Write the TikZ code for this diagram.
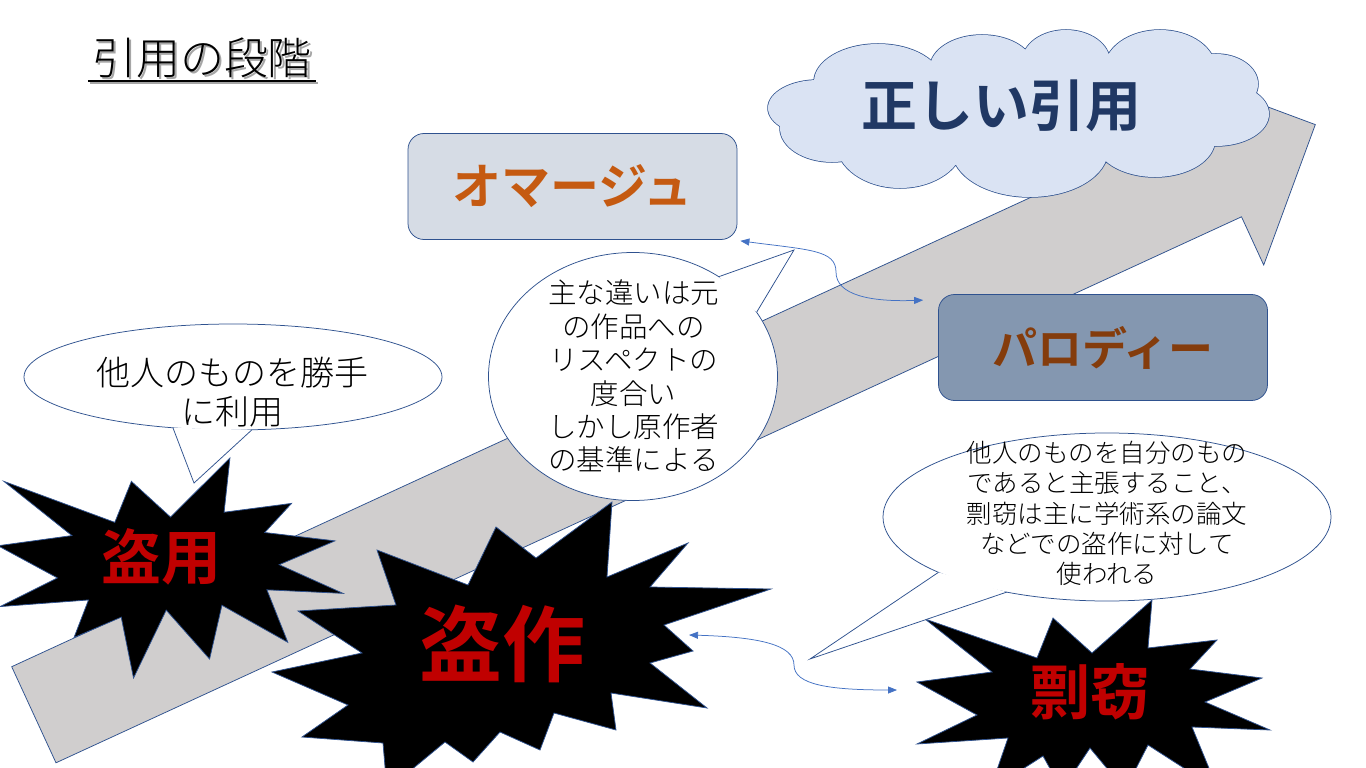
\documentclass[tikz,border=0pt]{standalone}
\usepackage{fontspec}
\setmainfont{Noto Sans CJK JP}[BoldFont={Noto Sans CJK JP Bold}]
\IfFontExistsTF{Noto Sans CJK JP Light}
  {\newfontfamily\jplight{Noto Sans CJK JP Light}}
  {\newcommand\jplight{}}
\usetikzlibrary{arrows.meta}

\definecolor{arrowgray}{HTML}{D0CECE}
\definecolor{edgeblue}{HTML}{2F528F}
\definecolor{linkblue}{HTML}{4472C4}
\definecolor{cloudfill}{HTML}{DAE3F3}
\definecolor{cloudtext}{HTML}{203864}
\definecolor{homagefill}{HTML}{D6DCE5}
\definecolor{homagetext}{HTML}{C55A11}
\definecolor{parodyfill}{HTML}{8497B0}
\definecolor{parodytext}{HTML}{843C0C}
\definecolor{theftred}{HTML}{C00000}

\newcommand\jpsize[2]{\fontsize{#1}{#2}\selectfont}
% puffs of the cloud
\newcommand\cloudpuffs{
  (818,108) ellipse [x radius=50pt, y radius=28pt]
  (878,82) ellipse [x radius=64pt, y radius=38pt]
  (982,68) ellipse [x radius=52pt, y radius=33pt]
  (1066,62) ellipse [x radius=44pt, y radius=32pt]
  (1160,70) ellipse [x radius=56pt, y radius=40pt]
  (1216,84) ellipse [x radius=42pt, y radius=30pt]
  (1216,114) ellipse [x radius=53pt, y radius=32pt]
  (1155,140) ellipse [x radius=60pt, y radius=37pt]
  (1030,150) ellipse [x radius=78pt, y radius=47pt]
  (900,142) ellipse [x radius=64pt, y radius=46pt]
  (832,128) ellipse [x radius=52pt, y radius=34pt]
  (1015,110) ellipse [x radius=190pt, y radius=55pt]}

\tikzset{
  edgeline/.style={draw=edgeblue, line width=0.75pt},
  stagebox/.style={edgeline, rounded corners=16pt, minimum width=329pt,
    minimum height=106pt, inner sep=0pt},
  burst/.style={edgeline, fill=black},
  bursttext/.style={text=theftred, inner sep=0pt},
  bubble/.style={edgeline, fill=white},
  bubbletext/.style={align=center, inner sep=0pt},
  link/.style={draw=linkblue, line width=0.75pt,
    {Triangle[length=9pt,width=7pt]}-{Triangle[length=9pt,width=7pt]}},
}

\begin{document}
\begin{tikzpicture}[x=1pt, y=-1pt]
  \useasboundingbox (0,0) rectangle (1366,768);
  \fill[white] (0,0) rectangle (1366,768);

  % big arrow
  \draw[edgeline, fill=arrowgray] (11.7,666.7) -- (1197.2,120.7) -- (1175.0,72.4)
    -- (1315.3,124.6) -- (1263.7,265.0) -- (1241.5,216.8) -- (56.0,762.8) -- cycle;

  % goal
  \draw[draw=edgeblue, line width=1.5pt] \cloudpuffs;
  \fill[cloudfill] \cloudpuffs;
  \node[text=cloudtext, font=\bfseries\jpsize{56}{60}] (goal) at (1001,106) {正しい引用};

  % stages
  \node[stagebox, fill=homagefill, text=homagetext, font=\bfseries\jpsize{49}{54}]
    (homage) at (572.5,186.5) {オマージュ};
  \node[stagebox, fill=parodyfill, text=parodytext, font=\bfseries\jpsize{45}{50}]
    (parody) at (1103,347.5) {パロディー};

  % 盗用
  \begin{scope}[shift={(-2,458)}, xscale=1.5972, yscale=1.0185]
    \draw[burst] (108,58) -- (145.22,0) -- (141.55,53.25) -- (183.80,44.57)
      -- (167.02,73.15) -- (210.97,81.37) -- (176.07,104.75) -- (216,132.90)
      -- (168.37,129.42) -- (181.45,180.95) -- (140.20,144.57) -- (132.47,197.37)
      -- (105.32,149.35) -- (84.85,216) -- (77.15,156.27) -- (47.62,176.17)
      -- (56.67,139.37) -- (1.35,145.87) -- (37.22,117.75) -- (0,86.15)
      -- (46.27,76.17) -- (3.70,22.95) -- (73.12,63.20) -- (83.52,22.95) -- cycle;
  \end{scope}
  \node[bursttext, font=\bfseries\jpsize{60}{66}] (misuse) at (161.5,557) {盗用};

  % 盗作
  \draw[burst] (612,502) -- (607,577) -- (688,543) -- (650,587) -- (771,589)
    -- (664,625) -- (693,651) -- (650,663) -- (707,708) -- (611,693) -- (616,730)
    -- (554,713) -- (540,750) -- (500,732) -- (473,762) -- (445,742) -- (387,790)
    -- (383,743) -- (302,737) -- (348,705) -- (272,672) -- (362,653) -- (298,611)
    -- (396,605) -- (377,550) -- (468,585) -- (496,527) -- (536,558) -- cycle;
  \node[bursttext, font=\bfseries\jpsize{83}{90}] (piracy) at (502.5,644) {盗作};
  \coordinate (piracy east) at (689,635);

  % 剽窃
  \draw[burst] (925,619) -- (1037,658) -- (1053,618) -- (1092,653) -- (1152,600)
    -- (1148,648) -- (1217,640) -- (1190,669) -- (1262,678) -- (1205,702)
    -- (1270,730) -- (1192,727) -- (1218,790) -- (1148,745) -- (1125,790)
    -- (1090,748) -- (1062,790) -- (1043,756) -- (990,790) -- (1008,738)
    -- (917,744) -- (977,715) -- (917,682) -- (992,672) -- cycle;
  \node[bursttext, font=\bfseries\jpsize{60}{66}] (plagiarism) at (1090,692) {剽窃};
  \coordinate (plagiarism west) at (897,690);

  % speech bubbles
  \coordinate (say1) at (233,377);
  \coordinate (say1 tip) at (194,483);
  \draw[bubble] (say1) ellipse [x radius=209pt, y radius=53pt];
  \fill[white] ([shift={(253.3:209pt and 53pt)}]say1) -- (say1 tip)
    -- ([shift={(275.2:209pt and 53pt)}]say1) -- cycle;
  \draw[edgeline] ([shift={(253.3:209pt and 53pt)}]say1) -- (say1 tip)
    -- ([shift={(275.2:209pt and 53pt)}]say1);
  \node[bubbletext, font=\jplight\jpsize{34}{39}] (say1 text) at (232,392.5)
    {他人のものを勝手\\に利用};

  \coordinate (say2) at (633,376.5);
  \coordinate (say2 tip) at (794,250);
  \draw[bubble] (say2) ellipse [x radius=144.5pt, y radius=124pt];
  \fill[white] ([shift={(53.6:144.5pt and 124pt)}]say2) -- (say2 tip)
    -- ([shift={(31.2:144.5pt and 124pt)}]say2) -- cycle;
  \draw[edgeline] ([shift={(53.6:144.5pt and 124pt)}]say2) -- (say2 tip)
    -- ([shift={(31.2:144.5pt and 124pt)}]say2);
  \node[bubbletext, font=\jplight\jpsize{28.5}{33.4}] (say2 text) at (633.5,376.5)
    {主な違いは元\\の作品への\\リスペクトの\\度合い\\しかし原作者\\の基準による};

  \coordinate (say3) at (1107,517);
  \coordinate (say3 tip) at (810,659);
  \draw[bubble] (say3) ellipse [x radius=224pt, y radius=84pt];
  \fill[white] ([shift={(221.2:224pt and 84pt)}]say3) -- (say3 tip)
    -- ([shift={(243.4:224pt and 84pt)}]say3) -- cycle;
  \draw[edgeline] ([shift={(221.2:224pt and 84pt)}]say3) -- (say3 tip)
    -- ([shift={(243.4:224pt and 84pt)}]say3);
  \node[bubbletext, font=\jplight\jpsize{25.5}{30.3}] (say3 text) at (1107,513.5)
    {他人のものを自分のもの\\であると主張すること、\\剽窃は主に学術系の論文\\などでの盗作に対して\\使われる};

  % links
  \draw[link] ([shift={(3,1)}]homage.south east) .. controls (810,250) and (836,250) .. (836,272)
    .. controls (836,295) and (870,302) .. ([shift={(-15,6)}]parody.north west);
  \draw[link] (piracy east) .. controls (760,637) and (794,645) .. (794,665)
    .. controls (794,685) and (830,690) .. (plagiarism west);

  % title
  \node[text=black!35, font=\jplight\jpsize{44}{48}, inner xsep=4pt] (titleshadow) at (204,60) {引用の段階};
  \node[font=\jplight\jpsize{44}{48}, inner xsep=4pt] (title) at (202,58) {引用の段階};
  \draw[black!35, line width=2.2pt] (titleshadow.west |- 0,83) -- (titleshadow.east |- 0,83);
  \draw[line width=2.2pt] (title.west |- 0,81) -- (title.east |- 0,81);
\end{tikzpicture}
\end{document}
